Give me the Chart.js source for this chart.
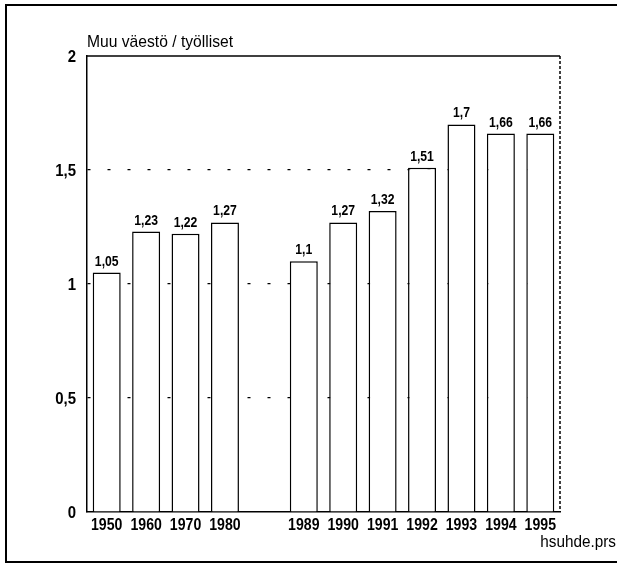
<!DOCTYPE html>
<html>
<head>
<meta charset="utf-8">
<script src="https://cdn.jsdelivr.net/npm/chart.js@4"></script>
<style>
  html, body { margin: 0; padding: 0; background: #fff; }
  #wrap { width: 617px; height: 564px; position: relative; }
</style>
</head>
<body>
<div id="wrap"><canvas id="ratioChart"></canvas></div>
<script>
const years = ['1950', '1960', '1970', '1980', '', '1989', '1990', '1991', '1992', '1993', '1994', '1995'];
const ratios = [1.05, 1.23, 1.22, 1.27, null, 1.1, 1.27, 1.32, 1.51, 1.7, 1.66, 1.66];
const yTicks = [0, 0.5, 1, 1.5, 2];
const title = 'Muu väestö / työlliset';
const fileTag = 'hsuhde.prs';

const FONT = '"Liberation Sans", Arial, sans-serif';

function fmt(v) {
    return String(v).replace('.', ',');
}

// the original uses a condensed face, so squeeze the text sideways
function narrowText(ctx, text, x, y, sx, align) {
    ctx.save();
    ctx.translate(x, y);
    ctx.scale(sx, 1);
    ctx.textAlign = align;
    ctx.fillText(text, 0, 0);
    ctx.restore();
}

const decorations = {
    id: 'decorations',
    afterDatasetsDraw(chart) {
        const ctx = chart.ctx;
        const area = chart.chartArea;
        const meta = chart.getDatasetMeta(0);
        const xScale = chart.scales.x;
        const yScale = chart.scales.y;

        ctx.save();
        ctx.fillStyle = '#000';
        ctx.textBaseline = 'alphabetic';

        // value labels
        ctx.font = 'bold 14px ' + FONT;
        meta.data.forEach((bar, i) => {
            if (ratios[i] == null) return;
            narrowText(ctx, fmt(ratios[i]), bar.x, bar.y - 7, 0.87, 'center');
        });

        // category labels
        ctx.font = 'bold 17px ' + FONT;
        years.forEach((y, i) => {
            narrowText(ctx, y, xScale.getPixelForTick(i), 530, 0.83, 'center');
        });

        // value axis labels
        ctx.textBaseline = 'middle';
        yTicks.forEach(v => {
            narrowText(ctx, fmt(v), 76, yScale.getPixelForValue(v) + 1, 0.88, 'right');
        });
        ctx.textBaseline = 'alphabetic';

        // top line of plot (solid) and right edge (dotted)
        ctx.strokeStyle = '#000';
        ctx.lineWidth = 1.5;
        ctx.beginPath();
        ctx.moveTo(area.left, area.top);
        ctx.lineTo(area.right, area.top);
        ctx.stroke();
        ctx.setLineDash([3, 2]);
        ctx.beginPath();
        ctx.moveTo(area.right, area.top);
        ctx.lineTo(area.right, area.bottom);
        ctx.stroke();
        ctx.setLineDash([]);

        // title
        ctx.font = '17px ' + FONT;
        narrowText(ctx, title, area.left, 47, 0.92, 'left');

        // file tag
        ctx.font = '17px ' + FONT;
        narrowText(ctx, fileTag, 616, 547, 0.9, 'right');

        // outer frame
        ctx.lineWidth = 2;
        ctx.beginPath();
        ctx.moveTo(617, 5);
        ctx.lineTo(6, 5);
        ctx.lineTo(6, 562);
        ctx.lineTo(617, 562);
        ctx.stroke();
        ctx.restore();
    }
};

document.addEventListener('DOMContentLoaded', () => {
    const ctx = document.getElementById('ratioChart').getContext('2d');
    new Chart(ctx, {
        type: 'bar',
        data: {
            labels: years,
            datasets: [{
                data: ratios,
                backgroundColor: '#fff',
                borderColor: '#000',
                borderWidth: 1.5,
                barPercentage: 0.71,
                categoryPercentage: 1
            }]
        },
        options: {
            responsive: true,
            maintainAspectRatio: false,
            animation: false,
            layout: { padding: { top: 56, right: 57, bottom: 0, left: 0 } },
            plugins: {
                legend: { display: false },
                tooltip: { enabled: false }
            },
            scales: {
                x: {
                    grid: { display: false, drawTicks: false },
                    border: { color: '#000', width: 1.5 },
                    ticks: { display: false, autoSkip: false },
                    afterFit(scale) { scale.height = 52; }
                },
                y: {
                    min: 0,
                    max: 2,
                    afterBuildTicks(scale) {
                        scale.ticks = yTicks.map(v => ({ value: v }));
                    },
                    grid: {
                        drawTicks: false,
                        color: c => (c.tick.value > 0 && c.tick.value < 2) ? '#000' : 'rgba(0,0,0,0)',
                        lineWidth: 1.2
                    },
                    border: { color: '#000', width: 1.5, dash: [3, 17] },
                    ticks: { display: false },
                    afterFit(scale) { scale.width = 87; }
                }
            }
        },
        plugins: [decorations]
    });
});
</script>
</body>
</html>
